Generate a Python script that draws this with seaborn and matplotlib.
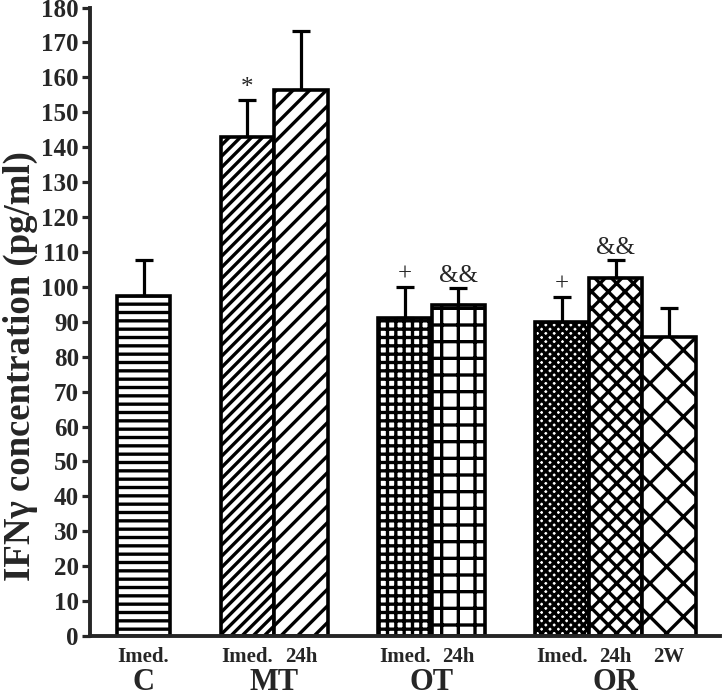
import numpy as np
import pandas as pd
import matplotlib
matplotlib.use("Agg")
import matplotlib.pyplot as plt
import seaborn as sns

sns.set_theme(style="ticks")
plt.rcParams['font.family'] = ['Liberation Serif', 'DejaVu Serif']
plt.rcParams['font.weight'] = 'bold'
plt.rcParams['hatch.linewidth'] = 2.4

groups = ["C", "MT", "OT", "OR"]
times = [["Imed."], ["Imed.", "24h"], ["Imed.", "24h"], ["Imed.", "24h", "2W"]]
means = [97.5, 142.8, 156.4, 91.0, 94.8, 90.0, 102.6, 85.5]
errs = [10.3, 10.7, 16.9, 8.9, 4.8, 7.2, 5.1, 8.3]
marks = ["", "*", "", "+", "&&", "+", "&&", ""]
hatches = ["--", "///", "//", "++", "+", "xxxx", "xx", "x"]

# bar positions: bars touch inside a group, ~one bar gap between groups
gap = 0.94
pos = []
group_centers = []
start = 0.0
for t in times:
    p = [start + i for i in range(len(t))]
    pos += p
    group_centers.append(np.mean(p))
    start += len(t) + gap
labels = [lab for t in times for lab in t]

df = pd.DataFrame({"pos": pos, "val": means})

fig = plt.figure(figsize=(7.22, 6.96), dpi=100)
ax = fig.add_axes([0.1247, 0.0862, 0.8726, 0.903])

sns.barplot(data=df, x="pos", y="val", native_scale=True, width=1,
            color="white", edgecolor="black", linewidth=2.6,
            errorbar=None, ax=ax)
for patch, h in zip(ax.patches, hatches):
    patch.set_hatch(h)
    patch.set_facecolor("white")
    patch.set_zorder(2)

ax.errorbar(pos, means, yerr=[np.zeros(len(errs)), errs], fmt='none',
            ecolor='black', elinewidth=2.3, capsize=6.5, capthick=2.3, zorder=1)

for p, m, e, mk in zip(pos, means, errs, marks):
    if mk:
        ax.annotate(mk, (p, m + e), xytext=(0, 1), textcoords='offset points',
                    ha='center', va='bottom', fontsize=18, fontweight='normal')

ax.set_xlim(-1.0, 10.77)
ax.set_ylim(0, 180)
ax.set_yticks(np.arange(0, 181, 10))
ax.set_xticks(pos, labels)
ax.tick_params(axis='x', length=0, labelsize=15, pad=8)
ax.tick_params(axis='y', length=6, width=2.3, direction='out', labelsize=18, pad=2)
for lab in ax.get_xticklabels() + ax.get_yticklabels():
    lab.set_fontweight('bold')

for g, c in zip(groups, group_centers):
    ax.text(c, -0.086, g, transform=ax.get_xaxis_transform(), ha='center', va='baseline',
            fontsize=22, fontweight='bold')

ax.set_xlabel("")
ax.set_ylabel("IFNγ concentration (pg/ml)", fontsize=26.5, fontweight='bold')
ax.yaxis.set_label_coords(-0.082, 0.43)

sns.despine(ax=ax)
ax.spines['left'].set_linewidth(2.8)
ax.spines['bottom'].set_linewidth(2.8)

fig.savefig("out.png", dpi=100)
